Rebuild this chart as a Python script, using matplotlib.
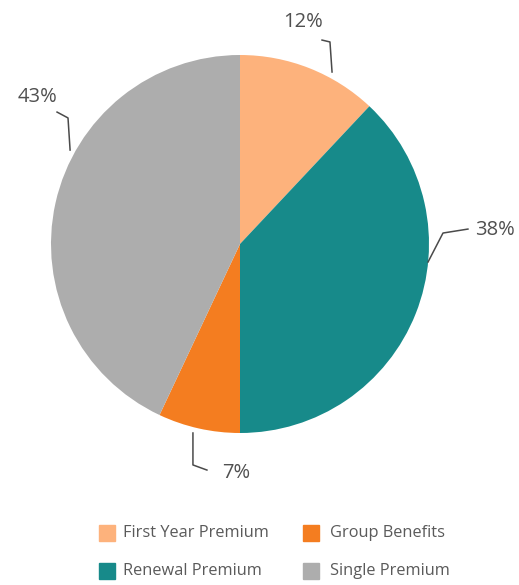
import matplotlib
matplotlib.use("Agg")
import matplotlib.pyplot as plt

categories = ["First Year Premium", "Renewal Premium", "Group Benefits", "Single Premium"]
shares = [12, 38, 7, 43]
colors = ["#FDB27C", "#178A8A", "#F47D20", "#ADADAD"]

# label anchor positions (pie radius units) and leader paths
label_pos = [(0.333, 1.175), (1.349, 0.074), (-0.021, -1.212), (-1.074, 0.778)]
leader_paths = [
    [(0.434, 1.079), (0.476, 1.069), (0.487, 0.910)],
    [(0.995, -0.095), (1.074, 0.058), (1.206, 0.079)],
    [(-0.249, -1.0), (-0.249, -1.169), (-0.175, -1.196)],
    [(-0.968, 0.698), (-0.910, 0.667), (-0.899, 0.497)],
]

fig = plt.figure(figsize=(5.19, 5.85), dpi=100)
ax = fig.add_axes([51 / 519, 152 / 585, 378 / 519, 378 / 585])
ax.pie(shares, colors=colors, startangle=90, counterclock=False, radius=1.0,
       wedgeprops=dict(linewidth=0))
ax.set_xlim(-1, 1)
ax.set_ylim(-1, 1)
ax.set_aspect("equal")
ax.axis("off")

for val, (lx, ly), path in zip(shares, label_pos, leader_paths):
    ax.text(lx, ly, f"{val}%", ha="center", va="center", fontsize=14.5,
            color="#505050", family="Open Sans", clip_on=False)
    xs, ys = zip(*path)
    ax.plot(xs, ys, color="#4a4a4a", lw=1.1, clip_on=False,
            solid_joinstyle="round")

# legend in two columns
sq_x = [107, 311]
txt_x = [123, 330]
row_y = [533, 571]
order = [(0, 0, 0), (2, 1, 0), (1, 0, 1), (3, 1, 1)]
sq = 16
for idx, col, row in order:
    cx = sq_x[col] / 519
    cy = 1 - row_y[row] / 585
    fig.patches.append(plt.Rectangle((cx - sq / 2 / 519, cy - sq / 2 / 585),
                                     sq / 519, sq / 585,
                                     transform=fig.transFigure, color=colors[idx]))
    fig.text(txt_x[col] / 519, cy, categories[idx], ha="left", va="center",
             fontsize=11.8, color="#5a5a5a", family="Open Sans")

fig.savefig("out.png", dpi=100)
